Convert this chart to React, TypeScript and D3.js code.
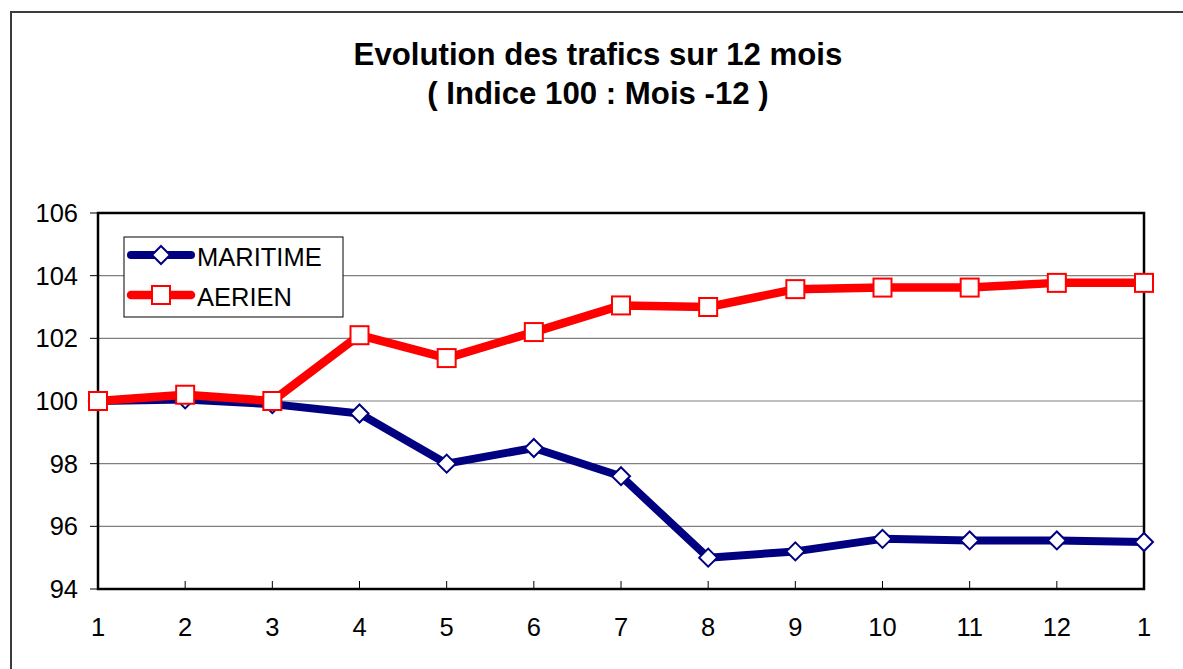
import { useMemo } from "react";
import { scaleLinear, scalePoint, line as d3line } from "d3";

const months = ["1", "2", "3", "4", "5", "6", "7", "8", "9", "10", "11", "12", "1"];
const maritime = [100, 100.05, 99.9, 99.6, 98.0, 98.5, 97.6, 95.0, 95.2, 95.6, 95.55, 95.55, 95.5];
const aerien = [100, 100.2, 100.0, 102.1, 101.37, 102.2, 103.05, 103.0, 103.57, 103.62, 103.62, 103.77, 103.77];
const yTicks = [94, 96, 98, 100, 102, 104, 106];
const titleLines = ["Evolution des trafics sur 12 mois", "( Indice 100 : Mois -12 )"];

const W = 1183;
const H = 669;
const plot = { left: 98, right: 1144, top: 213, bottom: 589 };
const NAVY = "#000080";
const RED = "#ff0000";
const FONT = "'Liberation Sans', Arial, sans-serif";

export default function App() {
  const keys = months.map((_, i) => String(i));

  const x = useMemo(
    () => scalePoint<string>().domain(keys).range([plot.left, plot.right]),
    [],
  );
  const y = useMemo(
    () => scaleLinear().domain([94, 106]).range([plot.bottom, plot.top]),
    [],
  );

  const lineGen = d3line<number>()
    .x((_, i) => x(String(i)) ?? 0)
    .y((d) => y(d));

  const diamond = (cx: number, cy: number, r: number) =>
    `M${cx},${cy - r}L${cx + r},${cy}L${cx},${cy + r}L${cx - r},${cy}Z`;

  return (
    <svg
      width={W}
      height={H}
      style={{ position: "absolute", left: 0, top: 0, background: "#fff" }}
    >
      {/* outer frame (clipped at right and bottom) */}
      <rect x={11} y={12} width={W + 20} height={H + 20} fill="#fff" stroke="#3c3c3c" strokeWidth={2} />

      {/* title */}
      {titleLines.map((t, i) => (
        <text
          key={i}
          x={598}
          y={65 + i * 39}
          textAnchor="middle"
          fontFamily={FONT}
          fontWeight="bold"
          fontSize={31.2}
          fill="#000"
        >
          {t}
        </text>
      ))}

      {/* gridlines */}
      {yTicks
        .filter((v) => v !== 94 && v !== 106)
        .map((v) => (
          <line key={v} x1={plot.left} x2={plot.right} y1={y(v)} y2={y(v)} stroke="#808080" strokeWidth={1.2} />
        ))}

      {/* y ticks and labels */}
      {yTicks.map((v) => (
        <g key={v}>
          <line x1={plot.left - 8} x2={plot.left} y1={y(v)} y2={y(v)} stroke="#000" strokeWidth={1} />
          <text
            x={plot.left - 20}
            y={y(v) + 9}
            textAnchor="end"
            fontFamily={FONT}
            fontSize={25.5}
            fill="#000"
          >
            {v}
          </text>
        </g>
      ))}

      {/* x ticks and labels */}
      {months.map((m, i) => {
        const px = x(String(i)) ?? 0;
        return (
          <g key={i}>
            {i > 0 && i < months.length - 1 && (
              <line x1={px} x2={px} y1={plot.bottom - 8} y2={plot.bottom} stroke="#000" strokeWidth={1} />
            )}
            <text x={px} y={636} textAnchor="middle" fontFamily={FONT} fontSize={25.5} fill="#000">
              {m}
            </text>
          </g>
        );
      })}

      {/* plot frame */}
      <rect
        x={plot.left}
        y={plot.top}
        width={plot.right - plot.left}
        height={plot.bottom - plot.top}
        fill="none"
        stroke="#000"
        strokeWidth={2.5}
      />

      {/* MARITIME */}
      <path d={lineGen(maritime) ?? ""} fill="none" stroke={NAVY} strokeWidth={8} strokeLinejoin="round" />
      {maritime.map((v, i) => (
        <path
          key={i}
          d={diamond(x(String(i)) ?? 0, y(v), 9)}
          fill="#fff"
          stroke={NAVY}
          strokeWidth={2}
        />
      ))}

      {/* AERIEN */}
      <path d={lineGen(aerien) ?? ""} fill="none" stroke={RED} strokeWidth={8.5} strokeLinejoin="round" />
      {aerien.map((v, i) => (
        <rect
          key={i}
          x={(x(String(i)) ?? 0) - 9}
          y={y(v) - 9}
          width={18}
          height={18}
          fill="#fff"
          stroke={RED}
          strokeWidth={2}
        />
      ))}

      {/* legend */}
      <g>
        <rect x={124} y={237} width={219} height={80} fill="#fff" stroke="#000" strokeWidth={1} />
        <line x1={131} x2={191} y1={255} y2={255} stroke={NAVY} strokeWidth={8} strokeLinecap="round" />
        <path d={diamond(161, 255, 9)} fill="#fff" stroke={NAVY} strokeWidth={2} />
        <text x={197} y={266} fontFamily={FONT} fontSize={25.5} fill="#000">
          MARITIME
        </text>
        <line x1={131} x2={191} y1={295} y2={295} stroke={RED} strokeWidth={8.5} strokeLinecap="round" />
        <rect x={152} y={286} width={18} height={18} fill="#fff" stroke={RED} strokeWidth={2} />
        <text x={197} y={306} fontFamily={FONT} fontSize={25.5} fill="#000">
          AERIEN
        </text>
      </g>
    </svg>
  );
}
